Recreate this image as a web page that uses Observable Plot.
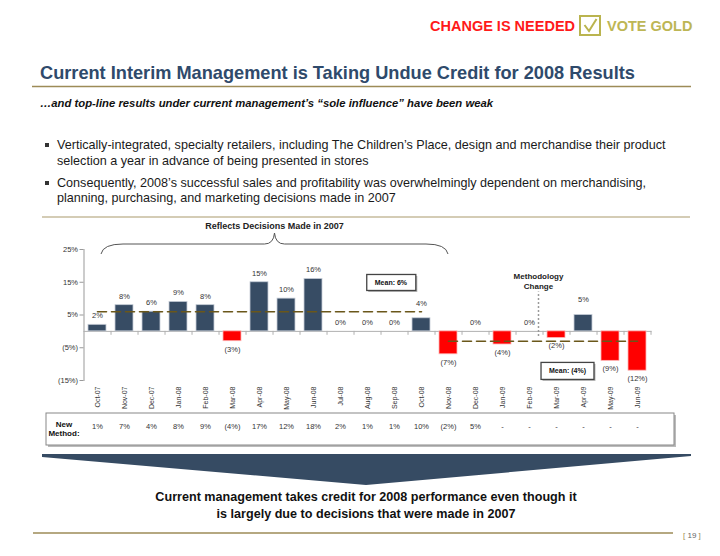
<!DOCTYPE html>
<html><head><meta charset="utf-8">
<script src="https://cdn.jsdelivr.net/npm/d3@7"></script>
<script src="https://cdn.jsdelivr.net/npm/@observablehq/plot@0.6"></script>
<style>
body{margin:0;background:#fff;}
#page{position:relative;width:720px;height:556px;overflow:hidden;font-family:"Liberation Sans",Arial,Helvetica,sans-serif;}
.abs{position:absolute;white-space:nowrap;}
#chart{position:absolute;left:0;top:215px;}
#chart svg{display:block;}
#deco{position:absolute;left:0;top:0;pointer-events:none;}
.bul{position:absolute;left:44px;width:618px;font-size:12.6px;line-height:15.5px;color:#1a1a1a;padding-left:13px;}
.bul:before{content:"";position:absolute;left:1px;top:5px;width:4px;height:4px;background:#333;}
</style></head><body><div id="page">
<div class="abs" style="left:430px;top:17.5px;font-size:14.5px;line-height:16px;font-weight:bold;color:#ff1a1a">CHANGE IS NEEDED</div>
<div class="abs" style="left:607px;top:17.5px;font-size:14.5px;line-height:16px;font-weight:bold;color:#bdb655">VOTE GOLD</div>
<div class="abs" style="left:40px;top:64px;font-size:18.2px;line-height:18px;font-weight:bold;color:#2f4a6b">Current Interim Management is Taking Undue Credit for 2008 Results</div>
<div class="abs" style="left:40px;top:96px;font-size:11.3px;line-height:14px;font-weight:bold;font-style:italic;color:#111">…and top-line results under current management’s “sole influence” have been weak</div>
<div class="bul" style="top:138px">Vertically-integrated, specialty retailers, including The Children’s Place, design and merchandise their product selection a year in advance of being presented in stores</div>
<div class="bul" style="top:175.5px">Consequently, 2008’s successful sales and profitability was overwhelmingly dependent on merchandising, planning, purchasing, and marketing decisions made in 2007</div>
<div id="chart"></div>
<div class="abs" style="left:0;width:732px;top:488.5px;text-align:center;font-size:12.6px;line-height:17px;font-weight:bold;color:#111">Current management takes credit for 2008 performance even though it<br>is largely due to decisions that were made in 2007</div>
<div class="abs" style="left:683px;top:531px;font-size:8px;line-height:10px;color:#666"><span style="color:#a08c50">[</span> 19 <span style="color:#a08c50">]</span></div>
<svg id="deco" width="720" height="556">
  <line x1="32" x2="691" y1="86.5" y2="86.5" stroke="#9d8b57" stroke-width="1.5"/>
  <line x1="42" x2="690" y1="217" y2="217" stroke="#a99a6c" stroke-width="1.2"/>
  <line x1="33" x2="673" y1="533" y2="533" stroke="#9d8b57" stroke-width="1.5"/>
  <polygon points="42,454 691,454 691,456 366,485 42,457" fill="#364b63"/>
  <rect x="580" y="16" width="20" height="19" fill="#fff" stroke="#bab44f" stroke-width="2"/>
  <path d="M584.5,25 L589,31 L596.5,19" fill="none" stroke="#bab44f" stroke-width="2"/>
</svg>
</div>
<script>
const months = ["Oct-07","Nov-07","Dec-07","Jan-08","Feb-08","Mar-08","Apr-08","May-08","Jun-08","Jul-08","Aug-08","Sep-08","Oct-08","Nov-08","Dec-08","Jan-09","Feb-09","Mar-09","Apr-09","May-09","Jun-09"];
const growth = [2,8,6,9,8,-3,15,10,16,0,0,0,4,-7,0,-4,0,-2,5,-9,-12];
const newMethod = ["1%","7%","4%","8%","9%","(4%)","17%","12%","18%","2%","1%","1%","10%","(2%)","5%","-","-","-","-","-","-"];
const yTicks = [25,15,5,-5,-15];
const meanStart = ["Oct-07","Nov-08"];
const meanEnd = ["Oct-08","Jun-09"];
const meanValue = [6,-3];
const meanLabels = ["Mean: 6%","Mean: (4%)"];

const fmt = v => v < 0 ? `(${-v}%)` : `${v}%`;
const rows = months.map((m,i) => ({month:m, value:growth[i], nm:newMethod[i]}));
const meanPts = meanStart.flatMap((s,i) => [{month:s, value:meanValue[i], seg:i},{month:meanEnd[i], value:meanValue[i], seg:i}]);
const raised = new Set(["Oct-08","Apr-09"]);
const NAVY = "#374c64", RED = "#ff0000";
const W = 720, ML = 83.5, MR = 68.5;
const step = (W - ML - MR) / months.length;

const plot = Plot.plot({
  width: W, height: 240,
  marginLeft: ML, marginRight: MR, marginTop: 34, marginBottom: 75,
  style: {fontFamily: "Liberation Sans, Arial, sans-serif", fontSize: "7.5px", color: "#333", background: "transparent"},
  x: {type: "band", domain: months, paddingInner: 0.32, paddingOuter: 0.16, label: null},
  y: {domain: [-15, 25], label: null},
  marks: [
    Plot.frame({anchor: "left", stroke: "#999"}),
    Plot.ruleY([0], {stroke: "#b0b0b0"}),
    Plot.ruleX(months, {x: d => d, y1: 0, y2: -1.2, dx: step/2, stroke: "#b0b0b0"}),
    Plot.barY(rows, {x: "month", y: "value", fill: d => d.value < 0 ? RED : NAVY, stroke: d => d.value < 0 ? "#ffb3b3" : "#c5ccd6", strokeWidth: 0.8}),
    Plot.text(rows.filter(d => d.value >= 0 && !raised.has(d.month)), {x: "month", y: "value", text: d => fmt(d.value), dy: -9, fill: "#333"}),
    Plot.text(rows.filter(d => raised.has(d.month)), {x: "month", y: "value", text: d => fmt(d.value), dy: -15, fill: "#333"}),
    Plot.text(rows.filter(d => d.value < 0), {x: "month", y: "value", text: d => fmt(d.value), dy: 8, fill: "#333"}),
    Plot.line(meanPts, {x: "month", y: "value", z: "seg", stroke: "#6a571a", strokeWidth: 1.6, strokeDasharray: "9,5"}),
    Plot.ruleX([{month: "Feb-09"}], {x: "month", y1: -1.6, y2: 12, dx: 9, stroke: "#9a9a9a", strokeWidth: 1.5, strokeDasharray: "2,2"}),
    Plot.text([{month: "Feb-09", t: "Methodology\nChange"}], {x: "month", y: () => 15.5, text: "t", dx: 9, fontSize: 8, fontWeight: "bold", lineHeight: 1.25, fill: "#222"}),
    Plot.text([{month: "Sep-08", t: meanLabels[0]}, {month: "Mar-09", t: meanLabels[1]}], {x: "month", y: (d, i) => i === 0 ? 14.85 : -12, text: "t", fontSize: 7, fontWeight: "bold", fill: "#111", className: "meanlabel"}),
    Plot.text(rows, {x: "month", frameAnchor: "bottom", dy: 48, text: "nm", fill: "#333"}),
    Plot.axisY({ticks: yTicks, tickFormat: fmt, tickSize: 4, tickPadding: 2, stroke: "#999", label: null}),
    Plot.axisX({tickRotate: -90, tickSize: 0, tickPadding: 6, fontSize: 7, label: null})
  ]
});
document.getElementById("chart").appendChild(plot);

// decorations positioned from the plot's own scales
const xs = plot.scale("x");
const cx = m => xs.apply(m) + xs.bandwidth / 2;
const svg = d3.select(plot);
svg.selectAll(".meanlabel text").each(function(d, i) {
  const el = d3.select(this);
  const dx = i === 0 ? -3.6 : 11;
  el.attr("transform", (el.attr("transform") || "") + ` translate(${dx},0)`);
});
svg.selectAll(".meanlabel text").each(function() {
  const b = this.getBBox();
  const t = this.getAttribute("transform") || "";
  const g = d3.select(this.parentNode);
  const px = 8, py = 4.5;
  g.insert("rect", () => this).attr("transform", t).attr("x", b.x - px + 1.5).attr("y", b.y - py + 1.5).attr("width", b.width + 2*px).attr("height", b.height + 2*py).attr("fill", "#b5b5b5");
  g.insert("rect", () => this).attr("transform", t).attr("x", b.x - px).attr("y", b.y - py).attr("width", b.width + 2*px).attr("height", b.height + 2*py).attr("fill", "#fff").attr("stroke", "#444").attr("stroke-width", 1.3);
});
// brace
const xL = cx("Oct-07") + 4, xR = cx("Nov-08"), xc = (xL + xR) / 2;
const yE = 39, yH = 29, yT = 18;
svg.append("path").attr("fill", "none").attr("stroke", "#555").attr("stroke-width", 1)
  .attr("d", `M${xL},${yE} Q${xL+2},${yH} ${xL+22},${yH} L${xc-10},${yH} Q${xc-1},${yH} ${xc},${yT} Q${xc+1},${yH} ${xc+10},${yH} L${xR-22},${yH} Q${xR-2},${yH} ${xR},${yE}`);
svg.append("text").attr("x", xc).attr("y", 12).attr("text-anchor", "middle").attr("dominant-baseline", "middle")
  .attr("font-size", 9).attr("font-weight", "bold").attr("fill", "#222").text("Reflects Decisions Made in 2007");
// table box
svg.insert("rect", ":first-child").attr("x", 48).attr("y", 200).attr("width", 628).attr("height", 32).attr("fill", "#bbb");
svg.insert("rect", ":nth-child(2)").attr("x", 46).attr("y", 198).attr("width", 628).attr("height", 32).attr("fill", "#fff").attr("stroke", "#888").attr("stroke-width", 1);
const lab = svg.append("text").attr("text-anchor", "middle").attr("font-size", 8).attr("font-weight", "bold").attr("fill", "#111");
lab.append("tspan").attr("x", 64).attr("y", 212).text("New");
lab.append("tspan").attr("x", 64).attr("y", 221).text("Method:");
</script>
</body></html>
